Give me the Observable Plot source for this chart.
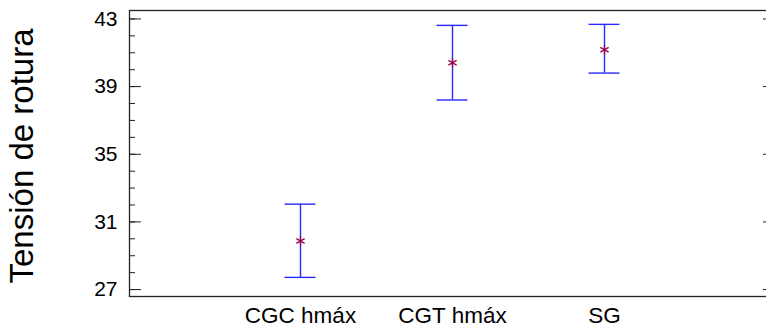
<!DOCTYPE html>
<html>
<head>
<meta charset="utf-8">
<script src="https://cdn.jsdelivr.net/npm/d3@7"></script>
<script src="https://cdn.jsdelivr.net/npm/@observablehq/plot@0.6"></script>
<style>
  html, body { margin: 0; padding: 0; background: #fff; }
  #chart svg { display: block; }
</style>
</head>
<body>
<div id="chart"></div>
<script>
const categories = ["CGC hmáx", "CGT hmáx", "SG"];
const means = [29.87, 40.41, 41.18];
const lower = [27.72, 38.21, 39.80];
const upper = [32.05, 42.62, 42.68];
const majorTicks = [27, 31, 35, 39, 43];
const minorTicks = [27, 28, 29, 30, 31, 32, 33, 34, 35, 36, 37, 38, 39, 40, 41, 42, 43];
const yTitle = "Tensión de rotura";

const data = categories.map((c, i) => ({cat: c, mean: means[i], lo: lower[i], hi: upper[i]}));

const barColor = "#2828ff";
const markColor = "#99004d";

const chart = Plot.plot({
  width: 766,
  height: 331,
  marginTop: 10,
  marginBottom: 35,
  marginLeft: 129,
  marginRight: -1,
  style: {fontFamily: "'Liberation Sans', Arial, sans-serif", background: "#fff", color: "#000"},
  x: {type: "point", domain: categories, range: [299, 604], padding: 0, label: null},
  y: {domain: [26.59, 43.5], label: null},
  marks: [
    Plot.frame({stroke: "#222", strokeWidth: 1.3}),
    Plot.axisY(minorTicks, {anchor: "left", tickSize: -6, text: null, label: null, stroke: "#222"}),
    Plot.axisY(majorTicks, {anchor: "left", tickSize: -12, text: null, label: null, stroke: "#222"}),
    Plot.axisY(majorTicks, {anchor: "left", tickSize: 0, tickPadding: 12, fontSize: 21, label: null}),
    Plot.axisY(majorTicks, {anchor: "right", tickSize: -5, text: null, label: null, stroke: "#222"}),
    Plot.axisX(categories, {anchor: "bottom", tickSize: 0, tickPadding: 11, fontSize: 22.5, label: null}),
    Plot.text([yTitle], {frameAnchor: "left", textAnchor: "middle", rotate: -90, dx: -107, dy: 2.5, fontSize: 33, fill: "#000"}),
    Plot.ruleX(data, {x: "cat", y1: "lo", y2: "hi", stroke: barColor, strokeWidth: 1.4}),
    Plot.ruleY(data, {x1: "cat", x2: "cat", y: "lo", insetLeft: -15.5, insetRight: -15.5, stroke: barColor, strokeWidth: 1.4}),
    Plot.ruleY(data, {x1: "cat", x2: "cat", y: "hi", insetLeft: -15.5, insetRight: -15.5, stroke: barColor, strokeWidth: 1.4}),
    Plot.dot(data, {x: "cat", y: "mean", symbol: "asterisk", r: 4.5, stroke: markColor, strokeWidth: 1.3})
  ]
});
document.getElementById("chart").appendChild(chart);
</script>
</body>
</html>
